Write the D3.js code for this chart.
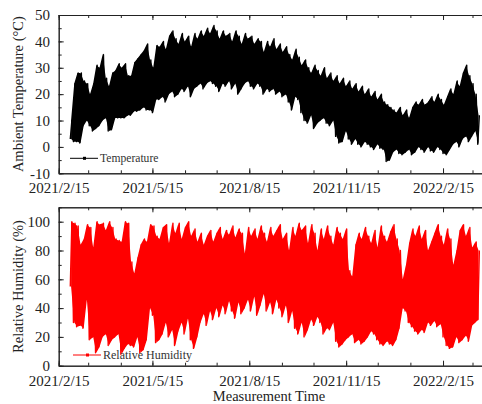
<!DOCTYPE html>
<html>
<head>
<meta charset="utf-8">
<script src="https://cdn.jsdelivr.net/npm/d3@7"></script>
<style>
  body { margin: 0; background: #fff; }
  text { font-family: "Liberation Serif", "Times New Roman", serif; }
</style>
</head>
<body>
<script>
// readings: local low / high every 3 days, starting 2021-02-26
var sampleStart = "2021-02-26";
var sampleStepDays = 3;

var tempHigh = [10,24,28,28,25,24,20,24,31,30, 35,26,23,28,29,31.5,30,31.5,27,27,
  32,33.5,35,36.5,39,33,30,38.5,38,40, 37,42,44,41,39,43,40,42,38,43,
  41,44,42,45,43,46,44,41,44,42, 43,40,44,42,39,43,41,42,39,41,
  40,36,40,38,41,37,39,36,38,35, 33,37,34,31,33,30,28,31,29,27,
  30,26,28,25,27,24,26,23,25,22, 24,21,23,20,22,19,21,18,20,17,
  16,15,14,13,15,12,14,11,15,17, 16,18,16,17,19,17,20,18,16,19,
  22,20,25,23,28,31,27,24,20,12];
var tempLow = [3,2,2,1.5,8,10,8,6,7,8, 10,11,6,6.5,11,11,11,11,12,12,
  13.5,13.5,14,15,14,14,13,18,18,19, 17,20,21,19,20,22,21,23,19,22,
  23,24,22,24,25,24,23,21,24,23, 25,22,24,20,22,24,25,23,22,24,
  23,20,22,21,22,20,21,19,20,17, 14,19,18,13,10,9,12,7,9,10,
  11,9,8,10,4,1.5,2,6,3,1, 3,1,0,2,1,0,-1,1,-0.5,-1,
  -5.5,-5,-2,-1,-2.5,-3,-2,-1,-3,-2, 0,-1,-2,0,-1.5,-2,0,-1,-2.5,-3,
  -1,1,2,0,3,4,2,4,6,1];

var humHigh = [100,99,97,84,88,98,96,82,100,98, 99,94,100,96,88,87,86,100,99,72,
  64,75,84,88,86,98,97,90,88,96, 98,85,99,92,99,88,96,100,90,95,
  86,92,84,90,94,86,92,96,88,94, 91,97,89,95,92,78,96,90,95,88,
  97,92,86,96,90,94,98,88,92,80, 96,90,99,94,97,85,98,92,80,95,
  88,97,90,84,96,92,88,95,66,62, 84,92,88,96,90,85,94,82,97,90,
  86,93,98,88,80,60,70,85,95,90, 97,88,94,80,86,92,98,90,84,95,
  88,70,80,94,98,90,96,82,86,80];
var humLow = [55,30,27,28,26,46,18,20,9,13, 20,22,14,18,20,22,8,12,15,14,
  13,20,9,11,18,40,35,16,18,22, 30,20,25,14,24,30,22,33,18,12,
  20,30,36,28,38,32,40,34,42,36, 45,38,33,44,36,40,46,38,48,35,
  42,50,38,44,36,46,40,34,42,30, 38,26,22,30,20,25,32,28,34,30,
  22,26,25,30,17,13,15,18,20,22, 16,18,15,17,20,24,22,18,15,14,
  17,15,14,18,26,40,38,30,27,24, 22,25,23,30,28,31,27,29,20,14,
  12,13,20,16,18,21,17,28,30,32];

var tempTicks = [-10, 0, 10, 20, 30, 40, 50];
var humTicks = [0, 20, 40, 60, 80, 100];
var dateTicks = ["2021-02-15", "2021-05-15", "2021-08-15", "2021-11-15", "2022-02-15"];

var svgWidth = 482;
var svgHeight = 404;
var plotLeft = 58.7;
var plotRight = 490.4;   // right edge falls outside the picture

var svg = d3.select("body").append("svg")
  .attr("width", svgWidth)
  .attr("height", svgHeight);

var parse = d3.utcParse("%Y-%m-%d");
var fmt = d3.utcFormat("%Y/%-m/%-d");

var xScale = d3.scaleUtc()
  .domain([parse("2021-02-15"), parse("2022-04-01")])
  .range([plotLeft, plotRight]);

// monthly minor ticks on the 15th
var monthTicks = d3.utcMonths(parse("2021-02-01"), parse("2022-04-01"))
  .map(d => new Date(Date.UTC(d.getUTCFullYear(), d.getUTCMonth(), 15)));
var majorDates = dateTicks.map(parse);

function sampleTime(i) {
  return d3.utcHour.offset(parse(sampleStart), i * sampleStepDays * 24);
}

// zigzag: each low followed by its high half a step later
function buildPoints(lows, highs) {
  var pts = [];
  lows.forEach(function(lo, i) {
    var t = sampleTime(i);
    pts.push([t, lo]);
    pts.push([d3.utcHour.offset(t, sampleStepDays * 12), highs[i]]);
  });
  return pts;
}

function drawPanel(opt) {
  var y = d3.scaleLinear().domain(opt.domain).range([opt.bottom, opt.top]);
  var g = svg.append("g");

  g.append("clipPath").attr("id", opt.id)
    .append("rect")
    .attr("x", plotLeft).attr("y", opt.top)
    .attr("width", plotRight - plotLeft).attr("height", opt.bottom - opt.top);

  var clip = g.append("g").attr("clip-path", "url(#" + opt.id + ")");

  // band between lows and highs
  var band = d3.area()
    .x((d, i) => xScale(d3.utcHour.offset(sampleTime(i), sampleStepDays * 6)))
    .y0((d, i) => y(opt.low[i]))
    .y1((d, i) => y(opt.high[i]));
  clip.append("path")
    .datum(opt.low)
    .attr("fill", opt.color)
    .attr("d", band);

  // daily swings
  var line = d3.line().x(d => xScale(d[0])).y(d => y(d[1]));
  clip.append("path")
    .datum(buildPoints(opt.low, opt.high))
    .attr("fill", "none")
    .attr("stroke", opt.color)
    .attr("stroke-width", 1.4)
    .attr("stroke-linejoin", "round")
    .attr("d", line);

  // minor ticks
  var minorX = d3.axisBottom(xScale).tickValues(monthTicks).tickSize(-3).tickSizeOuter(0).tickFormat("");
  var minorXTop = d3.axisTop(xScale).tickValues(monthTicks).tickSize(-3).tickSizeOuter(0).tickFormat("");
  var minorY = d3.axisLeft(y).tickValues(opt.minor).tickSize(-3).tickSizeOuter(0).tickFormat("");

  g.append("g").attr("transform", `translate(0,${opt.bottom})`).call(minorX);
  g.append("g").attr("transform", `translate(0,${opt.top})`).call(minorXTop);
  g.append("g").attr("transform", `translate(${plotLeft},0)`).call(minorY);

  // major ticks + labels
  var xAxis = g.append("g")
    .attr("transform", `translate(0,${opt.bottom})`)
    .call(d3.axisBottom(xScale).tickValues(majorDates).tickSize(-5).tickSizeOuter(0)
      .tickPadding(9.5).tickFormat(fmt));
  g.append("g")
    .attr("transform", `translate(0,${opt.top})`)
    .call(d3.axisTop(xScale).tickValues(majorDates).tickSize(-5).tickSizeOuter(0).tickFormat(""));
  var yAxis = g.append("g")
    .attr("transform", `translate(${plotLeft},0)`)
    .call(d3.axisLeft(y).tickValues(opt.ticks).tickSize(-5).tickSizeOuter(0).tickPadding(8.7)
      .tickFormat(d => String(d)));

  g.selectAll(".domain").attr("stroke", "#222").attr("stroke-width", 1);
  g.selectAll(".tick line").attr("stroke", "#222");
  xAxis.selectAll("text").attr("font-size", 15).attr("fill", "#222")
    .style("font-family", "'Liberation Serif', serif");
  yAxis.selectAll("text").attr("font-size", 15).attr("fill", "#222")
    .style("font-family", "'Liberation Serif', serif");

  // y title
  g.append("text")
    .attr("transform", `translate(${opt.titleX},${(opt.top + opt.bottom) / 2}) rotate(-90)`)
    .attr("text-anchor", "middle")
    .attr("dy", "0.35em")
    .attr("font-size", 14.5)
    .attr("fill", "#222")
    .text(opt.title);

  // legend
  g.append("line")
    .attr("x1", opt.legX).attr("x2", opt.legX + 28)
    .attr("y1", opt.legY).attr("y2", opt.legY)
    .attr("stroke", opt.color).attr("stroke-width", 1);
  g.append("rect")
    .attr("x", opt.legX + 13).attr("y", opt.legY - 1.5)
    .attr("width", 3).attr("height", 3)
    .attr("fill", opt.color);
  g.append("text")
    .attr("x", opt.legX + 30).attr("y", opt.legY)
    .attr("dy", "0.33em")
    .attr("font-size", opt.legSize)
    .attr("fill", "#333")
    .text(opt.legend);
}

drawPanel({
  id: "clipTemp", top: 15, bottom: 173.3, domain: [-10, 50],
  ticks: tempTicks, minor: d3.range(-10, 51, 5),
  low: tempLow, high: tempHigh, color: "#000",
  title: "Ambient Temperature (\u00B0C)", titleX: 18,
  legend: "Temperature", legX: 70, legY: 158.3, legSize: 11.6
});

drawPanel({
  id: "clipHum", top: 207.3, bottom: 365.7, domain: [0, 110],
  ticks: humTicks, minor: d3.range(0, 111, 10),
  low: humLow, high: humHigh, color: "#ff0000",
  title: "Relative Humidity (%)", titleX: 18,
  legend: "Relative Humidity", legX: 73, legY: 355, legSize: 12
});

svg.append("text")
  .attr("x", 269).attr("y", 401)
  .attr("text-anchor", "middle")
  .attr("font-size", 14.5)
  .attr("fill", "#222")
  .text("Measurement Time");
</script>
</body>
</html>
